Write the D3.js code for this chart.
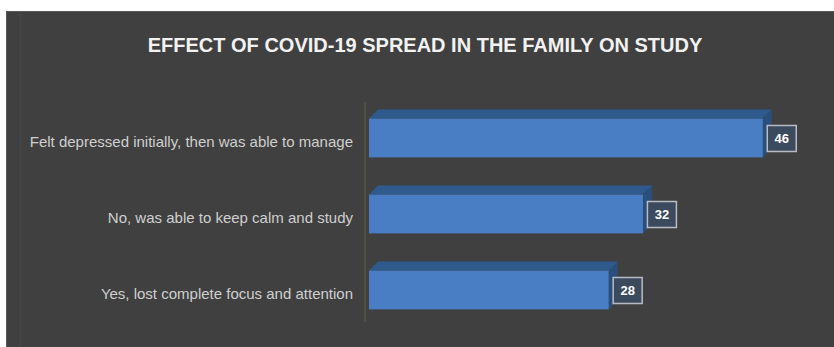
<!DOCTYPE html>
<html>
<head>
<meta charset="utf-8">
<script src="https://cdn.jsdelivr.net/npm/d3@7"></script>
<style>
  html, body { margin: 0; padding: 0; background: #ffffff; }
  svg { display: block; }
</style>
</head>
<body>
<svg id="chart" width="834" height="347"></svg>
<script>
// Survey responses: effect of COVID-19 spreading in the family on study
const categories = [
  "Felt depressed initially, then was able to manage",
  "No, was able to keep calm and study",
  "Yes, lost complete focus and attention"
];
const values = [46, 32, 28];
const chartTitle = "EFFECT OF COVID-19 SPREAD IN THE FAMILY ON STUDY";

const W = 834, H = 347;
const svg = d3.select("#chart");

// dark chart panel
svg.append("rect")
  .attr("x", 6.5).attr("y", 11.5)
  .attr("width", W - 6).attr("height", H - 11)
  .attr("fill", "#404040")
  .attr("stroke", "#585858").attr("stroke-width", 1);

svg.append("line")
  .attr("x1", 20.5).attr("x2", 20.5).attr("y1", 14).attr("y2", H)
  .attr("stroke", "#464646").attr("stroke-width", 1.5);

svg.append("text")
  .attr("x", 425).attr("y", 52)
  .attr("text-anchor", "middle")
  .attr("font-family", "'Liberation Sans Narrow', 'Arial Narrow', sans-serif")
  .attr("font-weight", "bold")
  .attr("font-size", 20)
  .attr("fill", "#f2f2f2")
  .text(chartTitle);

const x = d3.scaleLinear().domain([0, 50]).range([369, 797]);
const y = d3.scaleBand()
  .domain(categories)
  .range([100, 328])
  .paddingInner(0.49)
  .paddingOuter(0.245);

// depth of the 3-D bar top face
const dx = 9, dy = 9;

// value axis line
svg.append("line")
  .attr("x1", x(0) - 4).attr("x2", x(0) - 4)
  .attr("y1", y.range()[0] + 2).attr("y2", y.range()[1] - 6)
  .attr("stroke", "#52503f").attr("stroke-width", 2);

const rows = categories.map((c, i) => ({ cat: c, v: values[i] }));

const bars = svg.append("g").selectAll("g.bar")
  .data(rows).join("g").attr("class", "bar");

// top face
bars.append("path")
  .attr("fill", "#2f5a8e")
  .attr("d", d => {
    const x0 = x(0), x1 = x(d.v), t = y(d.cat);
    return `M${x0},${t} L${x0 + dx},${t - dy} L${x1 + dx},${t - dy} L${x1},${t} Z`;
  });

// end face
bars.append("path")
  .attr("fill", "#2b4f7c")
  .attr("d", d => {
    const x1 = x(d.v), t = y(d.cat), b = t + y.bandwidth();
    return `M${x1},${t} L${x1 + dx},${t - dy} L${x1 + dx},${b - dy} L${x1},${b} Z`;
  });

// front face
bars.append("rect")
  .attr("x", x(0))
  .attr("y", d => y(d.cat))
  .attr("width", d => x(d.v) - x(0))
  .attr("height", y.bandwidth())
  .attr("fill", "#4a7ec4");

// category labels
svg.append("g").selectAll("text")
  .data(rows).join("text")
  .attr("x", 353)
  .attr("y", d => y(d.cat) + y.bandwidth() / 2 + 4)
  .attr("dy", "0.35em")
  .attr("text-anchor", "end")
  .attr("font-family", "'Liberation Sans Narrow', 'Arial Narrow', sans-serif")
  .attr("font-size", 15)
  .attr("fill", "#cfcfcf")
  .text(d => d.cat);

// value labels in boxes
const lbl = svg.append("g").selectAll("g")
  .data(rows).join("g")
  .attr("transform", d => `translate(${x(d.v) + 4},${y(d.cat) + y.bandwidth() / 2 - 13})`);

lbl.append("rect")
  .attr("x", 0.5).attr("y", 0.5)
  .attr("width", 29).attr("height", 26)
  .attr("fill", "#3c4a5e")
  .attr("stroke", "#b8bcc4").attr("stroke-width", 1.5);

lbl.append("text")
  .attr("x", 15).attr("y", 13)
  .attr("dy", "0.35em")
  .attr("text-anchor", "middle")
  .attr("font-family", "'Liberation Sans Narrow', 'Arial Narrow', sans-serif")
  .attr("font-weight", "bold")
  .attr("font-size", 13)
  .attr("fill", "#ffffff")
  .text(d => d.v);
</script>
</body>
</html>
